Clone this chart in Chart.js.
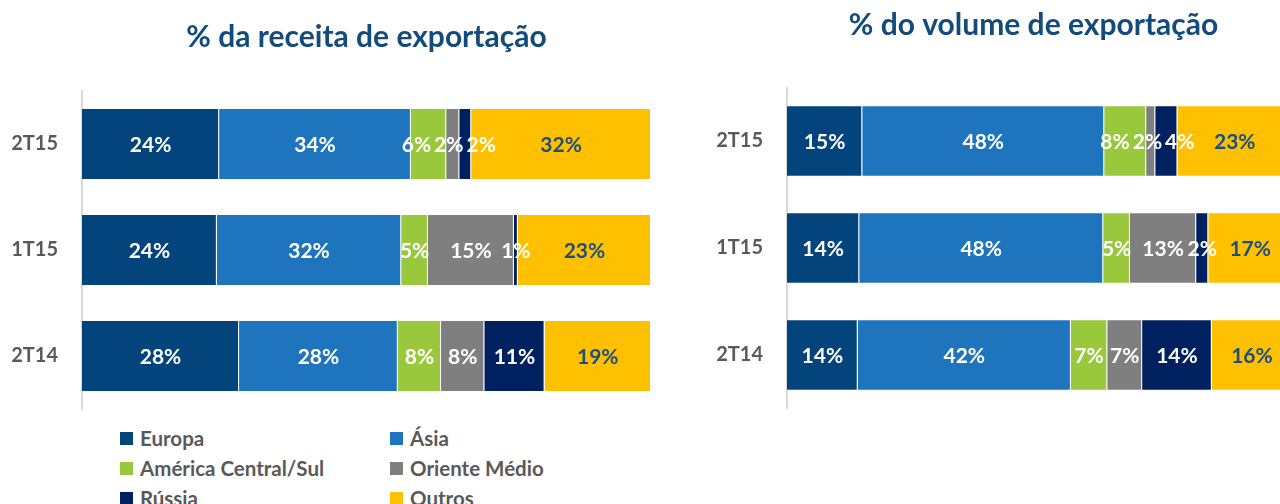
<!DOCTYPE html>
<html>
<head>
<meta charset="utf-8">
<script src="https://cdn.jsdelivr.net/npm/chart.js@4"></script>
<style>
  body { margin: 0; background: #fff; width: 1280px; height: 504px; overflow: hidden; position: relative; font-family: Lato, "Open Sans", sans-serif; }
  canvas { position: absolute; top: 0; }
  #legend { position: absolute; left: 120px; top: 423px; display: grid; grid-template-columns: 270px 270px; grid-auto-rows: 30px; }
  #legend div { display: flex; align-items: center; font-weight: bold; font-size: 20.5px; color: #595959; white-space: nowrap; }
  #legend span { display: inline-block; width: 13px; height: 13px; margin-right: 7px; }
</style>
</head>
<body>
<canvas id="receita" width="690" height="420" style="left:0"></canvas>
<canvas id="volume" width="590" height="420" style="left:690px"></canvas>
<div id="legend"></div>
<script>
// categories (top to bottom)
var categories = ['2T15', '1T15', '2T14'];
var seriesNames = ['Europa', 'Ásia', 'América Central/Sul', 'Oriente Médio', 'Rússia', 'Outros'];
var seriesColors = ['#04447C', '#1F75BD', '#9AC83C', '#7F7F7F', '#00215F', '#FFC000'];

// % da receita de exportação  (2T15, 1T15, 2T14)
var receitaEuropa  = [24.1, 23.7, 27.6];
var receitaAsia    = [33.7, 32.4, 27.9];
var receitaAmerica = [6.2, 4.7, 7.6];
var receitaOriente = [2.3, 15.1, 7.6];
var receitaRussia  = [2.1, 0.7, 10.6];
var receitaOutros  = [31.6, 23.4, 18.7];

// % do volume de exportação  (2T15, 1T15, 2T14)
var volumeEuropa  = [14.9, 14.3, 14.0];
var volumeAsia    = [47.9, 48.3, 42.2];
var volumeAmerica = [8.3, 5.3, 7.2];
var volumeOriente = [1.8, 13.1, 6.9];
var volumeRussia  = [4.4, 2.4, 13.8];
var volumeOutros  = [22.7, 16.6, 15.9];

var receita = [receitaEuropa, receitaAsia, receitaAmerica, receitaOriente, receitaRussia, receitaOutros];
var volume = [volumeEuropa, volumeAsia, volumeAmerica, volumeOriente, volumeRussia, volumeOutros];

var FONT = 'Lato, "Open Sans", sans-serif';

// draws the % inside each segment, spreading labels that would overlap
var segLabels = {
  id: 'segLabels',
  afterDatasetsDraw: function(chart) {
    var ctx = chart.ctx;
    ctx.save();
    ctx.font = 'bold 21px ' + FONT;
    ctx.textAlign = 'center';
    ctx.textBaseline = 'middle';
    var n = chart.data.datasets.length;
    for (var j = 0; j < categories.length; j++) {
      var items = [];
      for (var i = 0; i < n; i++) {
        var bar = chart.getDatasetMeta(i).data[j];
        var txt = Math.round(chart.data.datasets[i].data[j]) + '%';
        items.push({ txt: txt, cx: (bar.x + bar.base) / 2, y: bar.y, w: ctx.measureText(txt).width, i: i });
      }
      // group overlapping labels and lay them side by side
      var groups = [];
      items.forEach(function(it) {
        groups.push({ list: [it] });
        var moved = true;
        while (moved && groups.length > 1) {
          moved = false;
          var g = groups[groups.length - 1], p = groups[groups.length - 2];
          var pr = place(p), gr = place(g);
          if (gr.left < pr.right + 3) {
            groups.pop();
            p.list = p.list.concat(g.list);
            moved = true;
          }
        }
      });
      groups.forEach(function(g) {
        var x = place(g).left;
        g.list.forEach(function(it) {
          ctx.fillStyle = it.i == 5 ? '#1B4F80' : '#ffffff';
          ctx.fillText(it.txt, x + it.w / 2, it.y + 1);
          x += it.w + 3;
        });
      });
    }
    ctx.restore();
  }
};

function place(g) {
  var total = 0, mean = 0;
  g.list.forEach(function(it) { total += it.w; mean += it.cx; });
  total += 3 * (g.list.length - 1);
  mean /= g.list.length;
  return { left: mean - total / 2, right: mean + total / 2 };
}

function makeChart(id, values, title, xmax, pad, titlePad, barPct) {
  var datasets = [];
  for (var i = 0; i < seriesNames.length; i++) {
    datasets.push({
      label: seriesNames[i],
      data: values[i],
      backgroundColor: seriesColors[i],
      borderColor: 'rgba(255,255,255,0.3)',
      borderWidth: 1,
      barPercentage: barPct,
      categoryPercentage: 1
    });
  }
  return new Chart(document.getElementById(id), {
    type: 'bar',
    data: { labels: categories, datasets: datasets },
    plugins: [segLabels],
    options: {
      indexAxis: 'y',
      responsive: false,
      animation: false,
      devicePixelRatio: 1,
      layout: { padding: pad },
      plugins: {
        legend: { display: false },
        tooltip: { enabled: false },
        title: {
          display: true,
          text: title,
          fullSize: false,
          color: '#124B7C',
          font: { family: FONT, size: 30, weight: 'bold', lineHeight: 1.2 },
          padding: titlePad
        }
      },
      scales: {
        x: { stacked: true, display: false, min: 0, max: xmax },
        y: {
          stacked: true,
          grid: { display: false, drawTicks: false },
          border: { display: true, color: '#D9D9D9', width: 2 },
          ticks: { color: '#595959', padding: 24, font: { family: FONT, size: 20, weight: 'bold' } },
          afterFit: function(s) {
            s.width = pad.axis;
            s.paddingTop = 0;
            s.paddingBottom = 0;
          }
        }
      }
    }
  });
}

makeChart('receita', receita, '% da receita de exportação', 100,
  { left: 0, right: 39, top: 0, bottom: 11, axis: 82 }, { top: 19, bottom: 36 }, 0.68);
makeChart('volume', volume, '% do volume de exportação', 97.6,
  { left: 0, right: 0, top: 0, bottom: 11.5, axis: 97 }, { top: 7, bottom: 44.5 }, 0.67);

// legend in two columns
var legend = document.getElementById('legend');
seriesNames.forEach(function(name, i) {
  var item = document.createElement('div');
  var box = document.createElement('span');
  box.style.background = seriesColors[i];
  item.appendChild(box);
  item.appendChild(document.createTextNode(name));
  legend.appendChild(item);
});
</script>
</body>
</html>
